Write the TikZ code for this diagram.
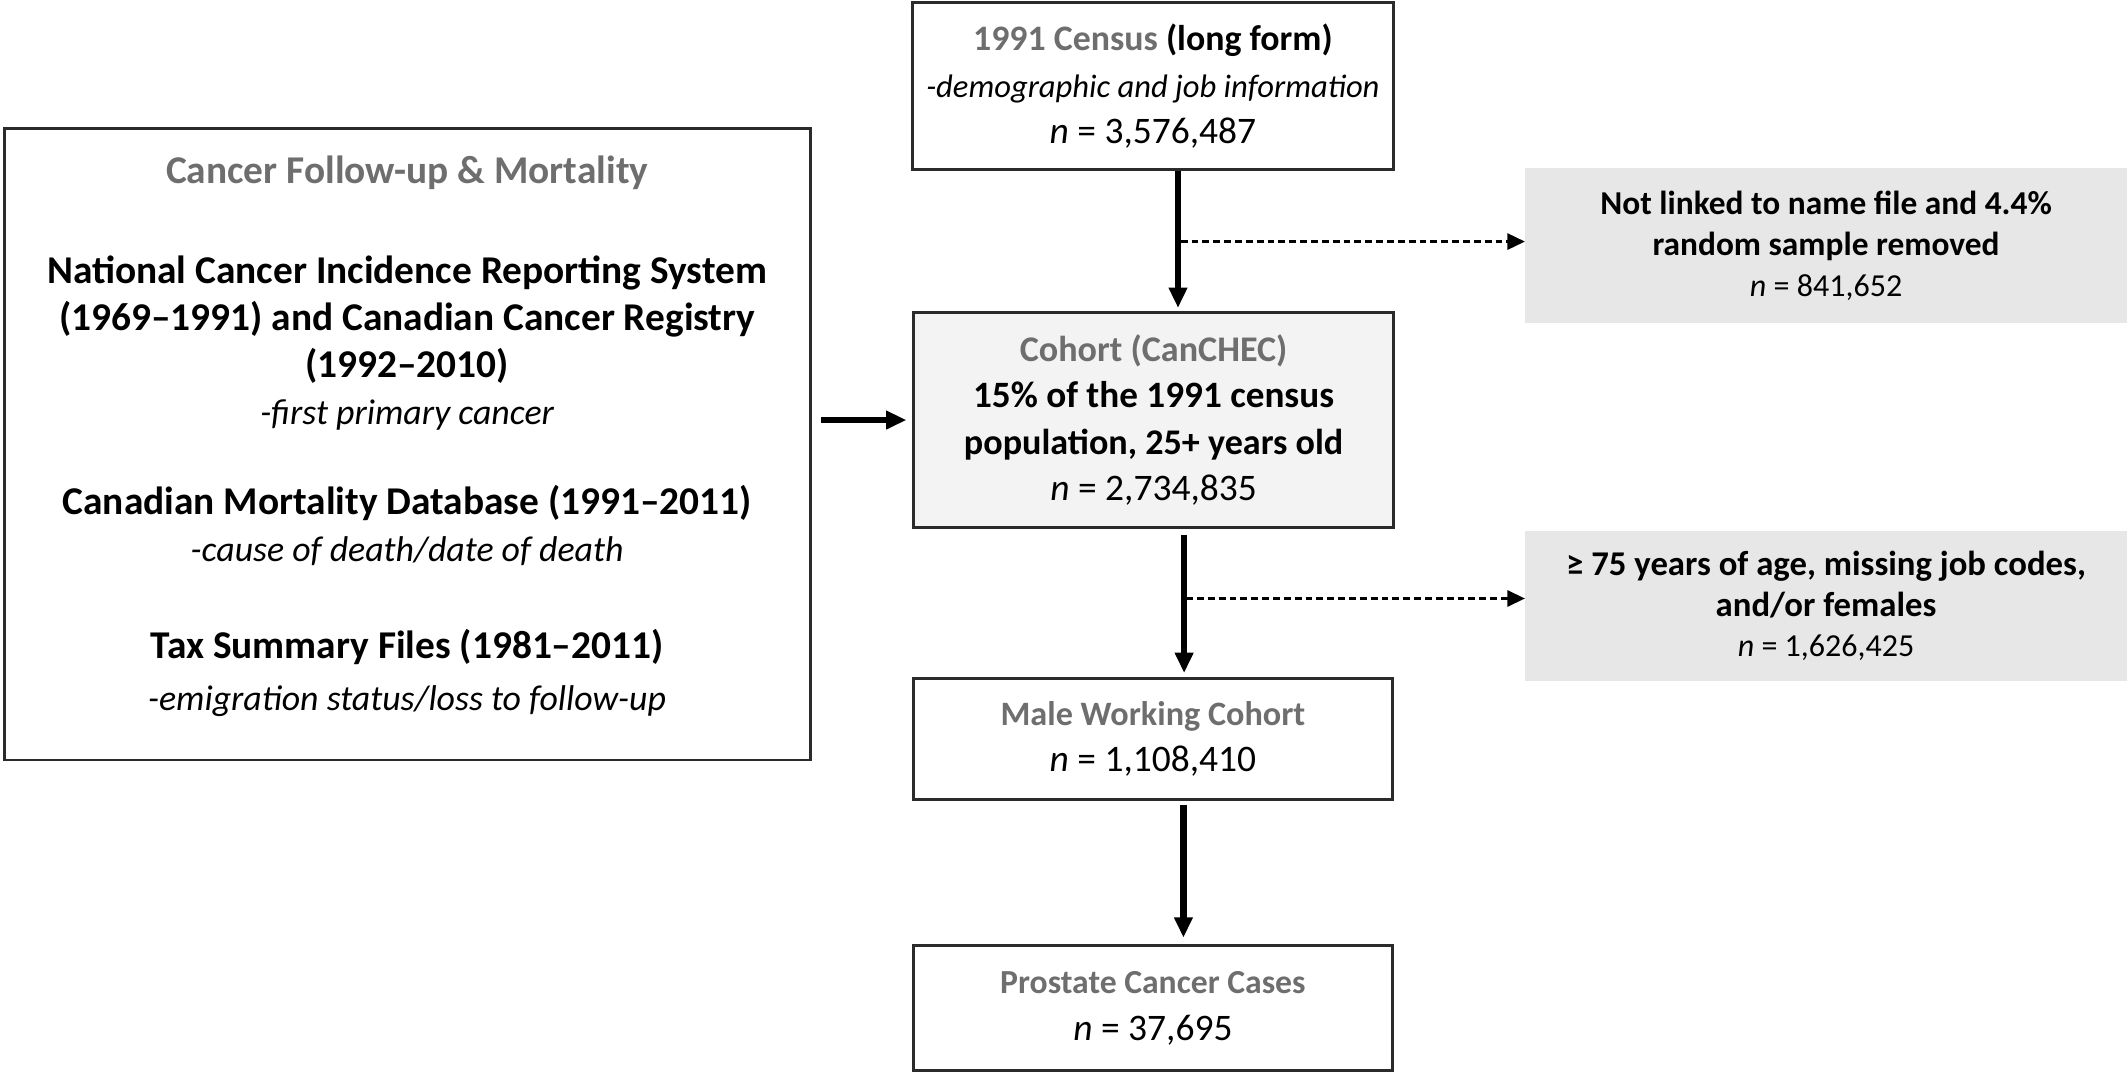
\documentclass[tikz,border=0pt]{standalone}
\usepackage{fontspec}
\setmainfont{Carlito}
\usetikzlibrary{arrows.meta}
\definecolor{titlegray}{HTML}{6E6E6E}
\definecolor{boxline}{HTML}{2B2B2B}
\definecolor{cohortfill}{HTML}{F3F3F3}
\definecolor{sidefill}{HTML}{E7E7E7}
\newcommand{\mainsz}{\fontsize{13.8}{17}\selectfont}
\newcommand{\bigb}{\fontsize{14.5}{17.5}\selectfont\bfseries}
\newcommand{\leftit}{\fontsize{13.2}{17.5}\selectfont\itshape}
\newcommand{\smit}{\fontsize{12}{17}\selectfont\itshape}
\newcommand{\sidesz}{\fontsize{12.3}{15}\selectfont}
\begin{document}
\begin{tikzpicture}[x=0.5pt,y=-0.5pt,
  box/.style={draw=boxline, line width=1.1pt, inner sep=0pt, align=center, font=\mainsz},
  sidebox/.style={fill=sidefill, inner sep=0pt, align=center, font=\sidesz},
  txt/.style={inner sep=0pt, align=center, font=\mainsz},
  mainarr/.style={line width=2.4pt, -{Triangle[length=7.5pt,width=6.5pt]}},
  dasharr/.style={line width=0.9pt, dash pattern=on 2.5pt off 1.5pt, -{Triangle[length=6.5pt,width=6pt]}}
]
\useasboundingbox (0,0) rectangle (1568,790.6);

% left box
\node[box, minimum width=297pt, minimum height=232.5pt] (left) at (300,327.5) {};
\node[txt, text=titlegray, font=\bigb] (lt) at (300,127) {Cancer Follow-up \& Mortality};
\node[txt] (lg1) at (300,252.5) {{\bigb National Cancer Incidence Reporting System}\\[0.3pt]
 {\bigb (1969--1991) and Canadian Cancer Registry}\\[0.3pt]
 {\bigb (1992--2010)}\\[0.3pt]
 {\leftit -first primary cancer}};
\node[txt] (lg2) at (300,387.5) {{\bigb Canadian Mortality Database (1991--2011)}\\[0.3pt]
 {\leftit -cause of death/date of death}};
\node[txt] (lg3) at (300,496) {{\bigb Tax Summary Files (1981--2011)}\\[2pt]
 {\leftit -emigration status/loss to follow-up}};

% central column
\node[box, minimum width=177.5pt, minimum height=61.5pt] (census) at (849.5,63.5)
 {{\fontsize{13.2}{17}\selectfont\bfseries\textcolor{titlegray}{1991 Census} (long form)}\\
  {\smit -demographic and job information}\\
  \textit{n} = 3,576,487};
\node[box, fill=cohortfill, minimum width=177pt, minimum height=79.5pt] (cohort) at (850,309.5)
 {{\fontsize{13.3}{17}\selectfont\bfseries\textcolor{titlegray}{Cohort (CanCHEC)}}\\
  {\fontsize{13.7}{17}\selectfont\bfseries 15\% of the 1991 census}\\
  {\fontsize{13.3}{17}\selectfont\bfseries population, 25+ years old}\\
  \textit{n} = 2,734,835};
\node[box, minimum width=176.5pt, minimum height=44.5pt] (male) at (849.5,544.5)
 {{\fontsize{12.6}{17}\selectfont\bfseries\textcolor{titlegray}{Male Working Cohort}}\\
  \textit{n} = 1,108,410};
\node[box, minimum width=176.5pt, minimum height=46pt] (prost) at (849.5,743)
 {{\fontsize{12.4}{17.5}\selectfont\bfseries\textcolor{titlegray}{Prostate Cancer Cases}}\\
  \textit{n} = 37,695};

% side boxes
\node[sidebox, minimum width=221.5pt, minimum height=57pt] (ex1) at (1345.5,181)
 {\textbf{Not linked to name file and 4.4\%}\\
  \textbf{random sample removed}\\
  {\fontsize{11.8}{15}\selectfont\textit{n} = 841,652}};
\node[sidebox, minimum width=221.5pt, minimum height=55.5pt] (ex2) at (1345.5,446.5)
 {{\fontsize{12.8}{16}\selectfont\bfseries ≥ 75 years of age, missing job codes,}\\
  {\fontsize{12.8}{16}\selectfont\bfseries and/or females}\\
  {\fontsize{11.8}{15}\selectfont\textit{n} = 1,626,425}};

% connectors
\coordinate (a1) at ([xshift=9.25pt]census.south);
\draw[mainarr] (a1) -- ([yshift=1pt]a1 |- cohort.north);
\coordinate (d1) at (870,178);
\draw[dasharr] (d1) -- (d1 -| ex1.west);

\coordinate (a2) at ([xshift=11.25pt]cohort.south);
\draw[mainarr, shorten <=2pt] (a2) -- ([yshift=1.5pt]a2 |- male.north);
\coordinate (d2) at (874,441);
\draw[dasharr] (d2) -- (d2 -| ex2.west);

\coordinate (a3) at ([xshift=11.25pt]male.south);
\draw[mainarr, shorten <=1.5pt] (a3) -- ([yshift=2.5pt]a3 |- prost.north);

\draw[mainarr, shorten <=3.5pt, shorten >=2pt] (left.east |- cohort.west) -- (cohort.west);
\end{tikzpicture}
\end{document}
